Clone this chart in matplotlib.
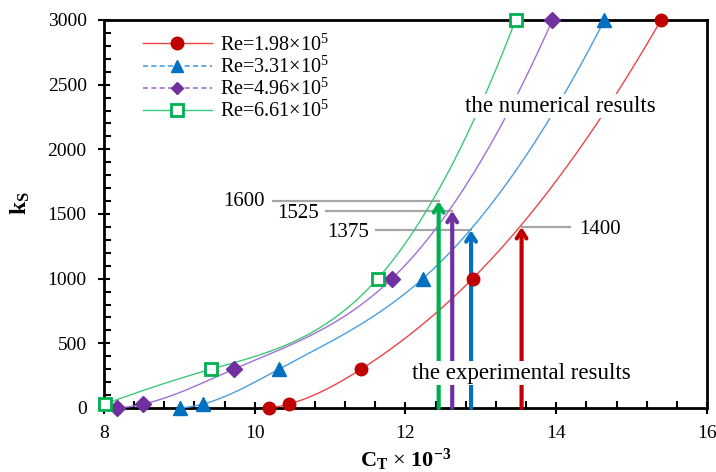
import numpy as np
import matplotlib
matplotlib.use("Agg")
import matplotlib.pyplot as plt
from matplotlib.lines import Line2D

plt.rcParams['font.family'] = ['Liberation Serif', 'DejaVu Serif']
plt.rcParams['mathtext.fontset'] = 'custom'
plt.rcParams['mathtext.rm'] = 'Liberation Serif'
plt.rcParams['mathtext.it'] = 'Liberation Serif:italic'
plt.rcParams['mathtext.bf'] = 'Liberation Serif:bold'

# ---- data ----
labels = ["Re=1.98×10$^5$", "Re=3.31×10$^5$", "Re=4.96×10$^5$", "Re=6.61×10$^5$"]
ct_red = [10.19, 10.45, 11.41, 12.89, 15.39]
ks_red = [0, 30, 300, 1000, 3000]
ct_blue = [9.01, 9.31, 10.32, 12.23, 14.64]
ks_blue = [0, 30, 300, 1000, 3000]
ct_purple = [8.17, 8.52, 9.72, 11.82, 13.95]
ks_purple = [0, 30, 300, 1000, 3000]
ct_green = [8.01, 9.42, 11.63, 13.46]
ks_green = [30, 300, 1000, 3000]

exp_ct = [12.44, 12.62, 12.87, 13.54]
exp_ks = [1600, 1525, 1375, 1400]
exp_labels = ["1600", "1525", "1375", "1400"]

marker_cols = ["#c00000", "#0070c0", "#7030a0", "#00b050"]
line_cols = ["#ee4444", "#4a9ee0", "#a070d8", "#3cc878"]
markers = ["o", "^", "D", "s"]

series = [(ct_red, ks_red), (ct_blue, ks_blue), (ct_purple, ks_purple), (ct_green, ks_green)]

W, H = 716, 472
fig = plt.figure(figsize=(W / 100, H / 100), dpi=100)
ax = fig.add_axes([104 / W, 1 - 408 / H, (707 - 104) / W, (408 - 20) / H])
ax.set_xlim(8, 16)
ax.set_ylim(0, 3000)


def smooth(xs, ys, n=60):
    """Cubic spline (parabolic run-out ends) through the points, for drawing the smooth line."""
    x = np.asarray(xs, float)
    y = np.asarray(ys, float)
    m = len(x)
    h = np.diff(x)
    d = np.diff(y) / h
    A = np.zeros((m, m))
    r = np.zeros(m)
    A[0, 0], A[0, 1] = 1, -1
    A[-1, -1], A[-1, -2] = 1, -1
    for i in range(1, m - 1):
        A[i, i - 1] = h[i - 1]
        A[i, i] = 2 * (h[i - 1] + h[i])
        A[i, i + 1] = h[i]
        r[i] = 6 * (d[i] - d[i - 1])
    M = np.linalg.solve(A, r)
    px, py = [], []
    for i in range(m - 1):
        t = np.linspace(0, h[i], n)
        b = d[i] - h[i] * (2 * M[i] + M[i + 1]) / 6
        s = y[i] + b * t + M[i] / 2 * t ** 2 + (M[i + 1] - M[i]) / (6 * h[i]) * t ** 3
        px.append(x[i] + t)
        py.append(s)
    return np.concatenate(px), np.concatenate(py)


for (xs, ys), mc, lc, mk in zip(series, marker_cols, line_cols, markers):
    sx, sy = smooth(xs, ys)
    ax.plot(sx, sy, color=lc, lw=1.0, zorder=3, clip_on=False)
    if mk == "s":
        ax.plot(xs, ys, ls="none", marker=mk, ms=8, mfc="white", mec=mc, mew=2.0, zorder=6, clip_on=False)
    else:
        ms = {"o": 9, "^": 9.5, "D": 8}[mk]
        ax.plot(xs, ys, ls="none", marker=mk, ms=ms, color=mc, zorder=6, clip_on=False)

# arrows for experimental results
for x, k, c in zip(exp_ct, exp_ks, marker_cols[::-1]):
    ax.annotate("", xy=(x, k), xytext=(x, 0),
                arrowprops=dict(arrowstyle="->,head_width=0.35,head_length=0.55", color=c, lw=3,
                                shrinkA=0, shrinkB=0), zorder=4)

# grey leader lines + labels
grey = "#a6a6a6"
ax.plot([10.24, exp_ct[0]], [exp_ks[0]] * 2, color=grey, lw=1.6, zorder=2)
ax.plot([10.94, exp_ct[1]], [exp_ks[1]] * 2, color=grey, lw=1.6, zorder=2)
ax.plot([11.61, exp_ct[2]], [exp_ks[2]] * 2, color=grey, lw=1.6, zorder=2)
ax.plot([exp_ct[3], 14.18], [exp_ks[3]] * 2, color=grey, lw=1.6, zorder=2)
fs = 15
ax.text(9.86, 1593, exp_labels[0], ha="center", va="center", fontsize=fs)
ax.text(10.57, 1505, exp_labels[1], ha="center", va="center", fontsize=fs)
ax.text(11.24, 1358, exp_labels[2], ha="center", va="center", fontsize=fs)
ax.text(14.58, 1384, exp_labels[3], ha="center", va="center", fontsize=fs)

ax.text(14.05, 2335, "the numerical results", ha="center", va="center", fontsize=16.5, zorder=5,
        bbox=dict(facecolor="white", edgecolor="none", pad=1))
ax.text(13.54, 270, "the experimental results", ha="center", va="center", fontsize=16.5, zorder=5,
        bbox=dict(facecolor="white", edgecolor="none", pad=1))

# axes styling
ax.set_xticks([8, 10, 12, 14, 16])
ax.set_yticks(np.arange(0, 3001, 500))
ax.set_xticks(np.arange(8, 16.01, 0.4), minor=True)
ax.set_yticks(np.arange(0, 3001, 100), minor=True)
ax.tick_params(axis="x", which="major", direction="inout", length=9, width=1.5, labelsize=14, pad=8)
ax.tick_params(axis="x", which="minor", direction="in", length=5, width=1.5)
ax.tick_params(axis="y", which="major", direction="inout", length=9, width=1.5, labelsize=14, pad=8)
ax.tick_params(axis="y", which="minor", direction="in", length=5, width=1.5)
for s in ax.spines.values():
    s.set_linewidth(2)

ax.set_xlabel(r"$\mathbf{C_T}$ × $\mathbf{10^{-3}}$", fontsize=16)
ax.set_ylabel(r"$\mathbf{k_S}$", fontsize=17)
ax.xaxis.set_label_coords(0.5, -0.10)
ax.yaxis.set_label_coords(-0.12, 0.528)

handles = [
    Line2D([], [], color=line_cols[0], lw=1, ls="-", marker="o", ms=9, mfc=marker_cols[0], mec=marker_cols[0]),
    Line2D([], [], color=line_cols[1], lw=1.2, ls=(0, (3, 2)), marker="^", ms=8.5, mfc=marker_cols[1], mec=marker_cols[1]),
    Line2D([], [], color=line_cols[2], lw=1.2, ls=(0, (3, 2)), marker="D", ms=6.5, mfc=marker_cols[2], mec=marker_cols[2]),
    Line2D([], [], color=line_cols[3], lw=1, ls="-", marker="s", ms=8, mfc="white", mec=marker_cols[3], mew=2),
]
ax.legend(handles, labels, loc="upper left", bbox_to_anchor=(0.035, 1.01), frameon=False,
          fontsize=14.5, handlelength=3.4, labelspacing=0.05, handletextpad=0.4)

fig.savefig("out.png", dpi=100)
